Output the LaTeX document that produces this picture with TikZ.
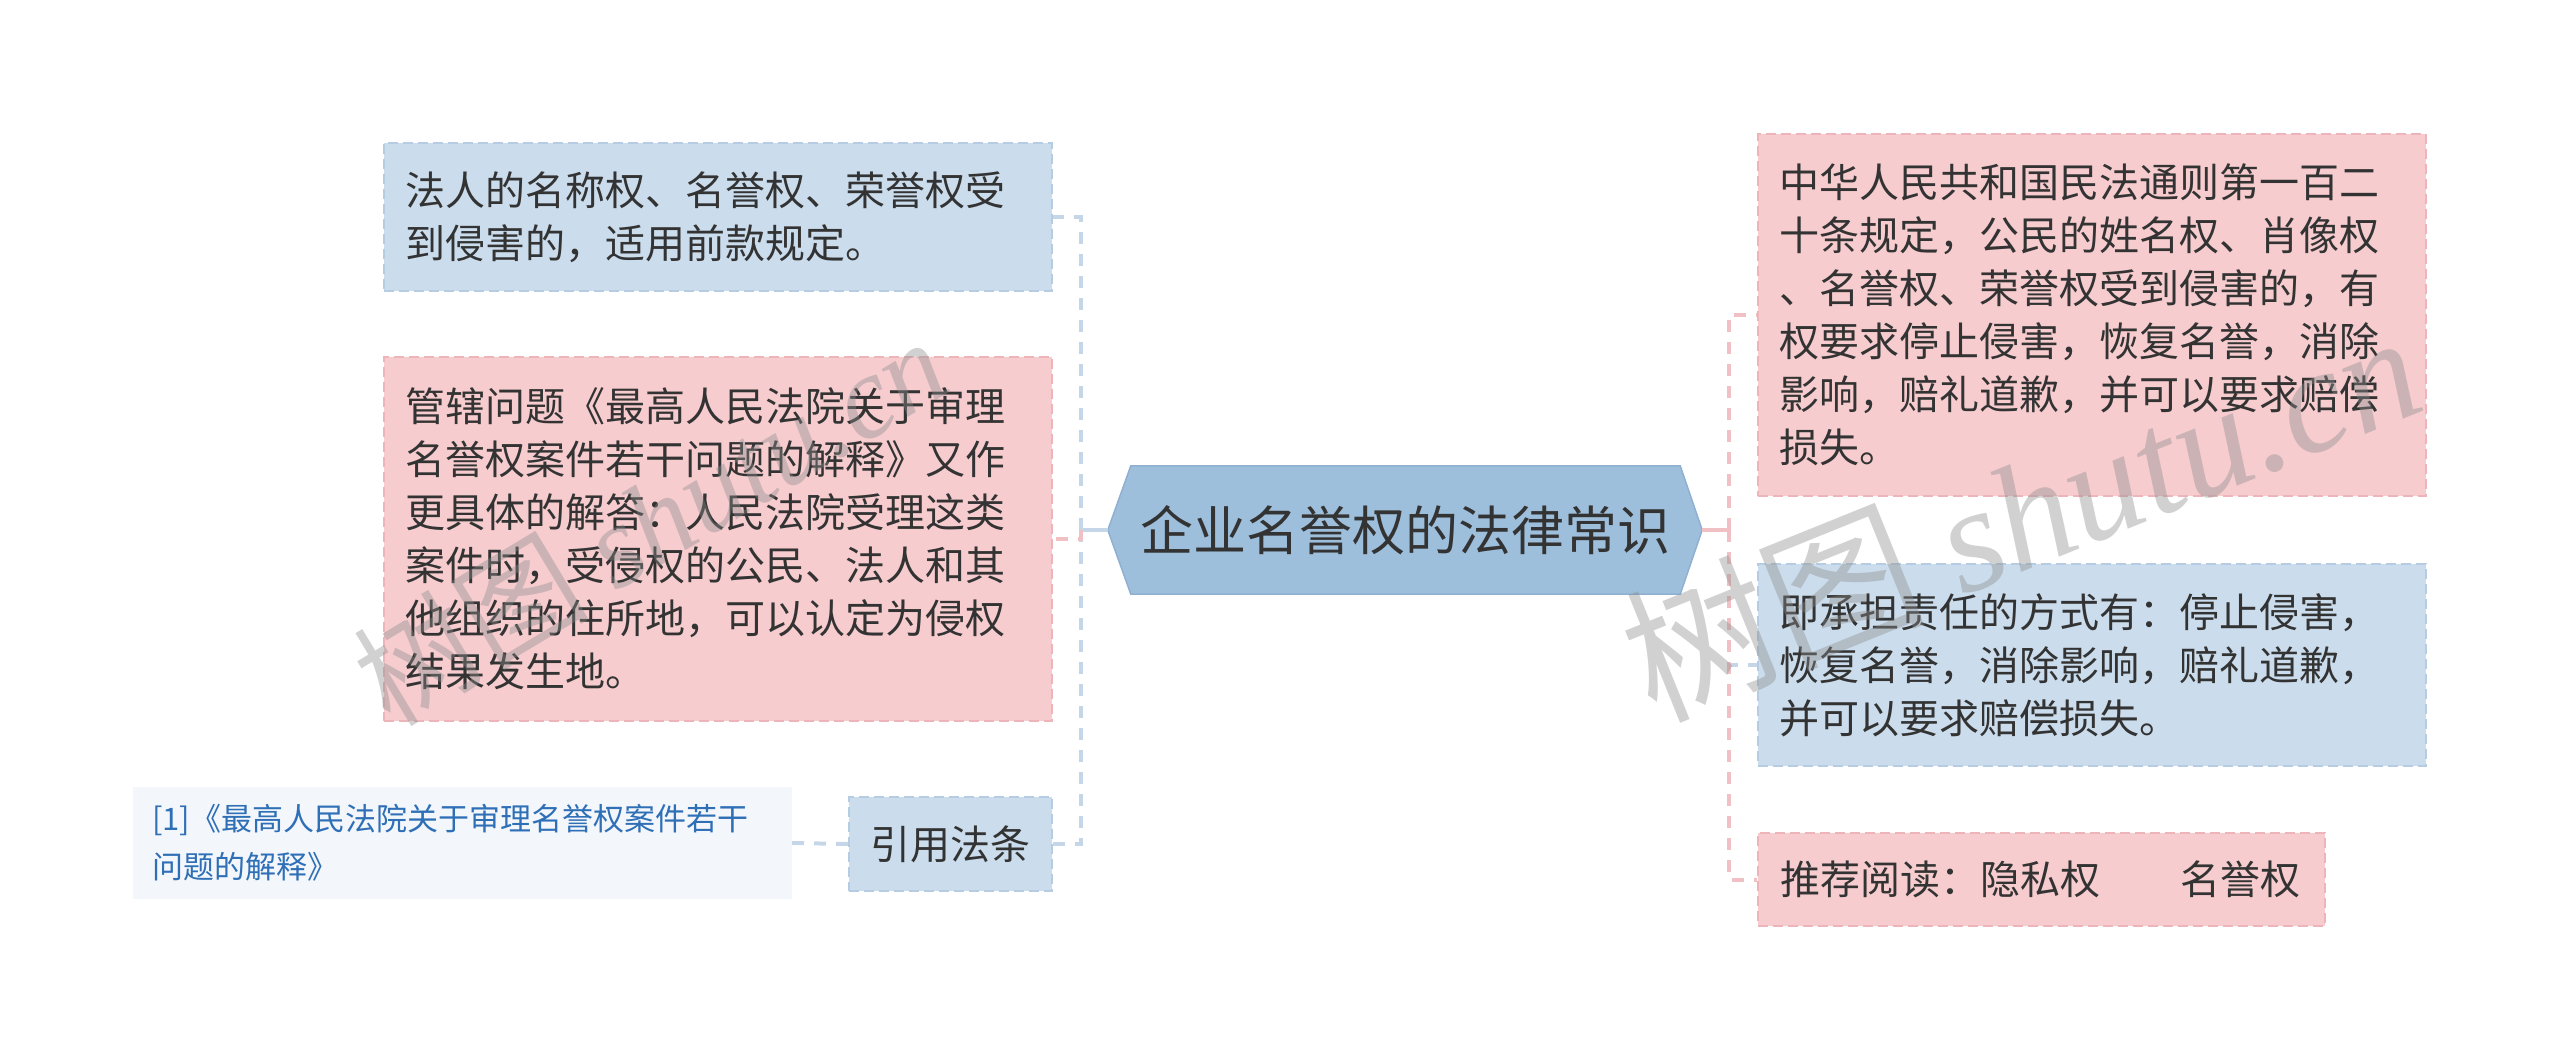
\documentclass[tikz,border=0pt]{standalone}
\usepackage{fontspec}
\setmainfont{Noto Sans CJK SC}
\newfontfamily\wmfont{Liberation Serif}
\usetikzlibrary{backgrounds}
\definecolor{bfill}{HTML}{CBDCEC}
\definecolor{bborder}{HTML}{B6CCE3}
\definecolor{pfill}{HTML}{F6CCCF}
\definecolor{pborder}{HTML}{EDB5BA}
\definecolor{rfill}{HTML}{9EBFDC}
\definecolor{rborder}{HTML}{8FB0D1}
\definecolor{cfill}{HTML}{F3F7FC}
\definecolor{bline}{HTML}{C4D6E8}
\definecolor{pline}{HTML}{F0C0C4}
\definecolor{tcol}{HTML}{333333}
\definecolor{citcol}{HTML}{2F6FB6}
\tikzset{
  box/.style={rectangle, line width=2pt, dash pattern=on 10pt off 5pt,
    font=\fontsize{40}{53}\selectfont, text=tcol, align=left,
    inner xsep=21pt, inner ysep=0pt},
  bluebox/.style={box, fill=bfill, draw=bborder},
  pinkbox/.style={box, fill=pfill, draw=pborder},
  citbox/.style={rectangle, fill=cfill, font=\fontsize{31}{48}\selectfont,
    text=citcol, align=left, inner xsep=19pt, inner ysep=0pt},
  rootnode/.style={rectangle, inner sep=0pt, font=\fontsize{53}{60}\selectfont,
    text=tcol, minimum width=594pt, minimum height=128pt},
  conn/.style={line width=4pt, dash pattern=on 12pt off 10pt},
  bconn/.style={conn, draw=bline},
  pconn/.style={conn, draw=pline},
  rconnb/.style={line width=4pt, draw=bline},
  rconnp/.style={line width=4pt, draw=pline},
  wm/.style={text=black!45, opacity=0.4, inner sep=0pt}
}
\begin{document}
\begin{tikzpicture}[x=1pt, y=-1pt]
\useasboundingbox (0,0) rectangle (2560,1061);
% left side
\node[bluebox, text width=626pt, minimum height=148pt] (b1) at (718,217)
  {法人的名称权、名誉权、荣誉权受\\到侵害的，适用前款规定。};
\node[pinkbox, text width=626pt, minimum height=364pt] (b2) at (718,539)
  {管辖问题《最高人民法院关于审理\\名誉权案件若干问题的解释》又作\\更具体的解答：人民法院受理这类\\案件时，受侵权的公民、法人和其\\他组织的住所地，可以认定为侵权\\结果发生地。};
\node[bluebox, minimum width=203pt, minimum height=94pt] (b3) at (950.5,844) {引用法条};
\node[citbox, text width=621pt, minimum height=112pt] (cit) at (462.5,843)
  {[1]《最高人民法院关于审理名誉权案件若干\\问题的解释》};
% root
\node[rootnode] (root) at (1405,530) {企业名誉权的法律常识};
\begin{scope}[on background layer]
\path[fill=rfill, draw=rborder, line width=1.5pt]
  (root.west) -- ([xshift=23pt]root.north west) -- ([xshift=-22pt]root.north east)
  -- (root.east) -- ([xshift=-22pt]root.south east) -- ([xshift=23pt]root.south west) -- cycle;
\end{scope}
% right side
\node[pinkbox, text width=626pt, minimum height=362pt] (r1) at (2092,315)
  {中华人民共和国民法通则第一百二\\十条规定，公民的姓名权、肖像权\\、名誉权、荣誉权受到侵害的，有\\权要求停止侵害，恢复名誉，消除\\影响，赔礼道歉，并可以要求赔偿\\损失。};
\node[bluebox, text width=626pt, minimum height=202pt] (r2) at (2092,665)
  {即承担责任的方式有：停止侵害，\\恢复名誉，消除影响，赔礼道歉，\\并可以要求赔偿损失。};
\node[pinkbox, inner xsep=22pt, text width=523pt, minimum height=93pt] (r3) at (2041.5,879.5)
  {推荐阅读：隐私权　　名誉权};
% connectors
\coordinate (jl) at (1081,530);
\coordinate (jr) at (1729,530);
\draw[rconnb] (root.west) -- (jl);
\draw[bconn] (jl) |- (b1.east);
\draw[bconn] (jl) |- (b3.east);
\draw[pconn] (jl) |- (b2.east);
\draw[bconn] (b3.west) -- (cit.east);
\draw[rconnp] (root.east) -- (jr);
\draw[pconn] (jr) |- (r1.west);
\draw[bconn] (jr) |- (r2.west);
\draw[pconn] (jr) |- (r3.west);
% watermarks
\node[wm, rotate=31, font=\fontsize{118}{118}\selectfont] (wm1) at (650,520) {树图 {\wmfont\itshape shutu.cn}};
\node[wm, rotate=22, font=\fontsize{150}{150}\selectfont] (wm2) at (2020,512) {树图 {\wmfont\itshape shutu.cn}};
\end{tikzpicture}
\end{document}
